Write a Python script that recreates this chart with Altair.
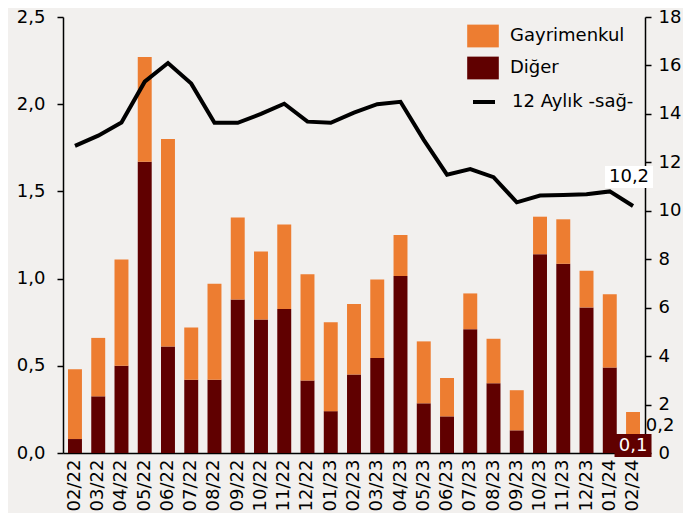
import altair as alt
import pandas as pd

months = ["02/22", "03/22", "04/22", "05/22", "06/22", "07/22", "08/22", "09/22",
          "10/22", "11/22", "12/22", "01/23", "02/23", "03/23", "04/23", "05/23",
          "06/23", "07/23", "08/23", "09/23", "10/23", "11/23", "12/23", "01/24", "02/24"]
diger = [0.08, 0.325, 0.50, 1.67, 0.61, 0.42, 0.42, 0.88, 0.765, 0.825, 0.415, 0.24,
         0.45, 0.545, 1.015, 0.285, 0.21, 0.71, 0.40, 0.13, 1.14, 1.085, 0.835, 0.49, 0.10]
gayrimenkul = [0.40, 0.335, 0.61, 0.60, 1.19, 0.30, 0.55, 0.47, 0.39, 0.485, 0.61, 0.51,
               0.405, 0.45, 0.235, 0.355, 0.22, 0.205, 0.255, 0.23, 0.215, 0.255, 0.21, 0.42, 0.135]
oniki_aylik = [12.68, 13.1, 13.64, 15.33, 16.1, 15.25, 13.63, 13.63, 14.0, 14.42, 13.68, 13.63,
               14.05, 14.4, 14.5, 12.93, 11.49, 11.72, 11.39, 10.35, 10.63, 10.65, 10.68, 10.8, 10.2]

series_names = ["Gayrimenkul", "Diğer"]
line_name = "12 Aylık -sağ-"
colors = ["#ED7D31", "#600000"]

FONT = "DejaVu Sans"

rows = []
for i, m in enumerate(months):
    rows.append({"ay": m, "seri": "Diğer", "deger": diger[i], "sira": 0})
    rows.append({"ay": m, "seri": "Gayrimenkul", "deger": gayrimenkul[i], "sira": 1})
bar_df = pd.DataFrame(rows)
line_df = pd.DataFrame({"ay": months, "deger": oniki_aylik, "seri": line_name})

last = months[-1]
lbl_left = pd.DataFrame({"ay": [last], "diger": [diger[-1]], "toplam": [diger[-1] + gayrimenkul[-1]],
                         "t1": ["0,1"], "t2": ["0,2"]})
lbl_right = pd.DataFrame({"ay": [last], "deger": [oniki_aylik[-1]], "t": ["10,2"]})

x_enc = alt.X("ay:N", sort=months, title=None,
              scale=alt.Scale(paddingInner=0.4, paddingOuter=0.215),
              axis=alt.Axis(labelAngle=-90, ticks=False, labelPadding=6,
                            labelFontSize=18, labelFont=FONT, labelColor="black",
                            domainColor="black", domainWidth=1.5))

bars = alt.Chart(bar_df).mark_bar().encode(
    x=x_enc,
    y=alt.Y("deger:Q", stack="zero", title=None,
            scale=alt.Scale(domain=[0, 2.5], nice=False),
            axis=alt.Axis(values=[0, 0.5, 1.0, 1.5, 2.0, 2.5], grid=False, tickSize=6,
                          labelPadding=12, labelFontSize=18, labelFont=FONT, labelColor="black",
                          tickColor="black", domainColor="black", domainWidth=1.5, tickWidth=1.5,
                          labelExpr="replace(format(datum.value, '.1f'), '.', ',')")),
    fill=alt.Fill("seri:N", title=None,
                  scale=alt.Scale(domain=series_names, range=colors),
                  legend=alt.Legend(orient="none", legendX=404, legendY=3, padding=0,
                                    symbolType="M-1,-0.72L1,-0.72L1,0.72L-1,0.72Z",
                                    symbolSize=1000, symbolStrokeWidth=0,
                                    labelFontSize=18, labelFont=FONT, labelColor="black",
                                    labelOffset=11, rowPadding=4)),
    order=alt.Order("sira:Q"),
)

box01 = alt.Chart(lbl_left).mark_point(
    shape="M-1,-0.62L1,-0.62L1,0.62L-1,0.62Z", filled=True, opacity=1,
    color="#600000", size=1369, yOffset=10
).encode(x=alt.X("ay:N", sort=months), y=alt.Y("diger:Q"))
text01 = alt.Chart(lbl_left).mark_text(
    font=FONT, fontSize=18, color="white", dy=10, baseline="middle"
).encode(x=alt.X("ay:N", sort=months), y=alt.Y("diger:Q"), text="t1:N")
text02 = alt.Chart(lbl_left).mark_text(
    font=FONT, fontSize=18, color="black", dx=27, dy=14, baseline="middle"
).encode(x=alt.X("ay:N", sort=months), y=alt.Y("toplam:Q"), text="t2:N")

left = alt.layer(bars, box01, text01, text02)

line = alt.Chart(line_df).mark_line(strokeWidth=4, color="black").encode(
    x=alt.X("ay:N", sort=months),
    y=alt.Y("deger:Q", title=None,
            scale=alt.Scale(domain=[0, 18], nice=False),
            axis=alt.Axis(orient="right", values=list(range(0, 19, 2)), grid=False,
                          tickSize=6, labelPadding=7, labelFontSize=18, labelFont=FONT,
                          labelColor="black", tickColor="black", domainColor="black",
                          domainWidth=1.5, tickWidth=1.5)),
    stroke=alt.Stroke("seri:N", title=None,
                      scale=alt.Scale(domain=[line_name], range=["black"]),
                      legend=alt.Legend(orient="none", legendX=408, legendY=72, padding=0,
                                        symbolType="stroke", symbolSize=484,
                                        symbolStrokeWidth=4,
                                        labelFontSize=18, labelFont=FONT, labelColor="black",
                                        labelOffset=15)),
)

box102 = alt.Chart(lbl_right).mark_point(
    shape="M-1,-0.46L1,-0.46L1,0.46L-1,0.46Z", filled=True, opacity=1,
    color="white", size=2304, xOffset=-4, yOffset=-29
).encode(x=alt.X("ay:N", sort=months), y=alt.Y("deger:Q"))
text102 = alt.Chart(lbl_right).mark_text(
    font=FONT, fontSize=18, color="black", dx=-4, dy=-29, baseline="middle"
).encode(x=alt.X("ay:N", sort=months), y=alt.Y("deger:Q"), text="t:N")

right = alt.layer(line, box102, text102)

chart = alt.layer(left, right).resolve_scale(y="independent").properties(
    width=582, height=436,
    autosize=alt.AutoSizeParams(type="none"),
    padding={"left": 55, "top": 9, "right": 38, "bottom": 60},
    background="#f2f0ee",
).configure_view(stroke=None)

chart.save("out.html", embed_options={"renderer": "svg", "actions": False})
